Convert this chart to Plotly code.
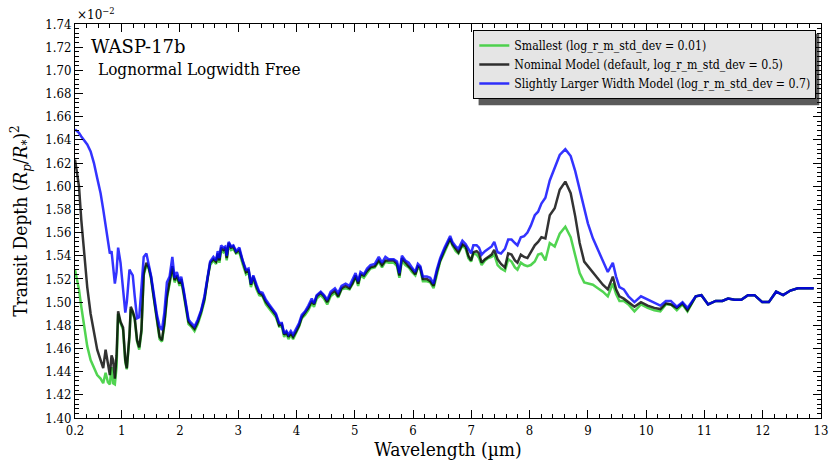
import plotly.graph_objects as go

wavelength = [0.200,0.268,0.308,0.354,0.410,0.468,0.525,0.581,0.639,0.684,0.725,0.764,0.798,0.827,0.854,0.884,0.913,0.940,0.981,1.025,1.063,1.089,1.135,1.157,1.191,1.225,1.265,1.302,1.340,1.379,1.425,1.465,1.504,1.550,1.606,1.652,1.692,1.733,1.777,1.823,1.870,1.909,1.948,1.994,2.023,2.063,2.109,2.148,2.194,2.251,2.307,2.365,2.421,2.478,2.519,2.575,2.621,2.649,2.678,2.707,2.746,2.780,2.803,2.837,2.878,2.917,2.963,3.020,3.076,3.134,3.178,3.219,3.259,3.315,3.361,3.418,3.476,3.532,3.601,3.647,3.703,3.749,3.789,3.828,3.862,3.903,3.942,3.988,4.045,4.091,4.147,4.204,4.262,4.301,4.347,4.416,4.472,4.528,4.586,4.660,4.716,4.774,4.843,4.911,4.968,5.014,5.058,5.099,5.156,5.212,5.270,5.344,5.412,5.468,5.526,5.583,5.668,5.725,5.766,5.810,5.868,5.925,5.981,6.039,6.083,6.124,6.169,6.237,6.295,6.352,6.408,6.466,6.540,6.608,6.637,6.676,6.733,6.779,6.847,6.904,6.950,6.996,7.035,7.092,7.133,7.177,7.235,7.292,7.348,7.394,7.451,7.509,7.577,7.633,7.690,7.748,7.792,7.850,7.907,7.963,8.021,8.089,8.146,8.203,8.271,8.346,8.431,8.517,8.613,8.705,8.783,8.859,8.937,9.000,9.086,9.171,9.257,9.342,9.428,9.484,9.542,9.616,9.696,9.799,9.911,10.026,10.140,10.243,10.338,10.424,10.526,10.624,10.709,10.851,10.948,11.063,11.193,11.307,11.405,11.518,11.632,11.746,11.859,11.991,12.105,12.230,12.350,12.475,12.601,12.731,12.874]

# transit depth in units of 1e-2
depth_smallest = [1.528,1.511,1.496,1.479,1.462,1.450,1.443,1.437,1.434,1.430,1.439,1.431,1.429,1.444,1.430,1.429,1.444,1.490,1.482,1.476,1.448,1.442,1.470,1.494,1.491,1.485,1.466,1.459,1.474,1.523,1.532,1.529,1.520,1.503,1.483,1.468,1.466,1.480,1.503,1.515,1.529,1.517,1.522,1.514,1.518,1.507,1.492,1.481,1.479,1.475,1.481,1.490,1.501,1.522,1.532,1.536,1.533,1.540,1.534,1.545,1.543,1.545,1.536,1.549,1.545,1.546,1.542,1.543,1.533,1.524,1.526,1.513,1.520,1.511,1.506,1.505,1.498,1.494,1.490,1.487,1.479,1.479,1.470,1.473,1.468,1.472,1.468,1.473,1.479,1.486,1.489,1.493,1.499,1.496,1.503,1.506,1.503,1.498,1.505,1.508,1.504,1.511,1.512,1.511,1.516,1.522,1.514,1.523,1.521,1.525,1.529,1.530,1.535,1.530,1.535,1.534,1.534,1.531,1.521,1.536,1.532,1.530,1.526,1.523,1.530,1.528,1.518,1.518,1.517,1.512,1.524,1.535,1.543,1.550,1.554,1.549,1.544,1.542,1.549,1.546,1.538,1.535,1.542,1.541,1.538,1.532,1.536,1.538,1.539,1.541,1.532,1.529,1.527,1.537,1.535,1.530,1.528,1.534,1.532,1.531,1.532,1.535,1.541,1.542,1.536,1.551,1.548,1.559,1.565,1.556,1.539,1.525,1.517,1.516,1.515,1.512,1.509,1.505,1.516,1.507,1.501,1.501,1.498,1.492,1.498,1.495,1.493,1.492,1.498,1.498,1.493,1.498,1.492,1.505,1.506,1.498,1.501,1.501,1.503,1.502,1.502,1.506,1.506,1.500,1.500,1.509,1.506,1.510,1.512,1.512,1.512]

depth_nominal = [1.623,1.600,1.571,1.542,1.513,1.490,1.473,1.459,1.450,1.443,1.459,1.447,1.437,1.454,1.450,1.434,1.454,1.492,1.483,1.478,1.450,1.443,1.472,1.496,1.492,1.486,1.467,1.461,1.476,1.525,1.534,1.530,1.522,1.505,1.485,1.470,1.467,1.482,1.505,1.517,1.531,1.519,1.523,1.516,1.520,1.509,1.494,1.483,1.480,1.477,1.483,1.492,1.503,1.523,1.534,1.537,1.535,1.542,1.536,1.547,1.545,1.547,1.538,1.551,1.547,1.548,1.543,1.545,1.535,1.526,1.528,1.515,1.522,1.513,1.508,1.506,1.500,1.496,1.492,1.489,1.480,1.481,1.472,1.474,1.470,1.473,1.470,1.474,1.480,1.487,1.491,1.495,1.501,1.498,1.505,1.508,1.505,1.500,1.507,1.510,1.505,1.512,1.514,1.512,1.517,1.523,1.516,1.524,1.523,1.527,1.530,1.531,1.536,1.532,1.536,1.536,1.536,1.533,1.523,1.538,1.534,1.531,1.528,1.524,1.531,1.530,1.520,1.520,1.518,1.514,1.526,1.536,1.545,1.552,1.555,1.550,1.546,1.543,1.550,1.548,1.540,1.536,1.543,1.544,1.542,1.534,1.537,1.539,1.541,1.545,1.537,1.533,1.530,1.542,1.541,1.536,1.534,1.541,1.539,1.538,1.543,1.549,1.552,1.556,1.555,1.575,1.581,1.597,1.604,1.594,1.574,1.551,1.535,1.531,1.526,1.521,1.515,1.511,1.522,1.511,1.505,1.503,1.500,1.496,1.500,1.497,1.495,1.494,1.499,1.498,1.495,1.499,1.493,1.505,1.506,1.498,1.501,1.501,1.503,1.502,1.502,1.506,1.506,1.500,1.500,1.509,1.506,1.510,1.512,1.512,1.512]

depth_larger = [1.649,1.646,1.643,1.640,1.636,1.630,1.620,1.607,1.594,1.580,1.565,1.554,1.542,1.544,1.531,1.516,1.526,1.547,1.534,1.513,1.491,1.500,1.528,1.526,1.523,1.505,1.486,1.487,1.511,1.539,1.542,1.533,1.523,1.508,1.489,1.479,1.476,1.491,1.517,1.522,1.539,1.521,1.526,1.518,1.522,1.511,1.496,1.485,1.482,1.479,1.485,1.493,1.505,1.525,1.535,1.539,1.536,1.544,1.538,1.549,1.547,1.548,1.540,1.552,1.548,1.549,1.544,1.547,1.536,1.528,1.529,1.516,1.523,1.515,1.509,1.508,1.502,1.498,1.493,1.490,1.482,1.482,1.473,1.475,1.472,1.475,1.472,1.476,1.482,1.489,1.492,1.497,1.503,1.499,1.506,1.509,1.506,1.502,1.509,1.512,1.508,1.514,1.516,1.514,1.520,1.525,1.518,1.526,1.524,1.529,1.532,1.533,1.539,1.534,1.539,1.537,1.537,1.535,1.525,1.540,1.536,1.534,1.530,1.526,1.533,1.531,1.522,1.522,1.521,1.516,1.528,1.538,1.547,1.554,1.557,1.552,1.548,1.546,1.553,1.550,1.546,1.542,1.549,1.549,1.547,1.541,1.544,1.546,1.548,1.552,1.543,1.542,1.546,1.554,1.554,1.551,1.549,1.556,1.557,1.560,1.566,1.575,1.578,1.585,1.590,1.605,1.616,1.627,1.632,1.626,1.613,1.597,1.582,1.568,1.555,1.545,1.535,1.526,1.534,1.522,1.513,1.511,1.505,1.500,1.505,1.502,1.499,1.497,1.501,1.501,1.496,1.500,1.495,1.505,1.506,1.498,1.501,1.501,1.503,1.502,1.502,1.506,1.506,1.500,1.500,1.509,1.506,1.510,1.512,1.512,1.512]

series_names = [
    "Smallest (log_r_m_std_dev = 0.01)",
    "Nominal Model (default, log_r_m_std_dev = 0.5)",
    "Slightly Larger Width Model (log_r_m_std_dev = 0.7)",
]
x_tick_vals = [0.2, 1, 2, 3, 4, 5, 6, 7, 8, 9, 10, 11, 12, 13]
x_tick_text = ["0.2", "1", "2", "3", "4", "5", "6", "7", "8", "9", "10", "11", "12", "13"]

SERIF = "DejaVu Serif, Liberation Serif, serif"
COND = "DejaVu Serif Condensed, DejaVu Serif, serif"

fig = go.Figure()
colors = ["rgba(50,205,50,0.85)", "rgba(0,0,0,0.8)", "rgba(0,0,255,0.8)"]
for name, ys, c in zip(series_names, [depth_smallest, depth_nominal, depth_larger], colors):
    fig.add_trace(go.Scatter(x=wavelength, y=ys, mode="lines", name=name,
                             line=dict(color=c, width=2.5)))

axis_common = dict(showgrid=False, zeroline=False, showline=True, linecolor="black",
                   linewidth=1, mirror="allticks", ticks="inside", ticklen=8,
                   tickcolor="black", tickfont=dict(family=COND, size=13, color="black"))

fig.update_xaxes(range=[0.2, 13], tickmode="array", tickvals=x_tick_vals, ticktext=x_tick_text,
                 minor=dict(tickmode="linear", tick0=0, dtick=0.2, ticks="inside", ticklen=4,
                            tickcolor="black"),
                 title=dict(text="Wavelength (µm)", font=dict(family=COND, size=19, color="black"),
                            standoff=4),
                 **axis_common)
fig.update_yaxes(range=[1.40, 1.74], dtick=0.02, tick0=1.40, tickformat=".2f",
                 minor=dict(tickmode="linear", tick0=1.40, dtick=0.004, ticks="inside", ticklen=4,
                            tickcolor="black"),
                 title=dict(text="Transit Depth (<i>R</i><sub><i>p</i></sub>/<i>R</i><sub>*</sub>)<sup>2</sup>",
                            font=dict(family=COND, size=19, color="black"), standoff=12),
                 **axis_common)

fig.update_layout(
    width=840, height=467,
    margin=dict(l=75, r=16, t=24, b=49),
    paper_bgcolor="white", plot_bgcolor="white",
    showlegend=True,
    legend=dict(x=0.9937, xanchor="right", y=0.985, yanchor="top",
                bgcolor="#e5e5e5", bordercolor="black", borderwidth=1,
                font=dict(family=COND, size=12.2, color="black"),
                itemwidth=30, tracegroupgap=0),
    shapes=[dict(type="rect", xref="paper", yref="paper", layer="below",
                 x0=0.541, x1=0.9977, y0=0.794, y1=0.975,
                 fillcolor="#5a5a5a", line=dict(width=0))],
    annotations=[
        dict(text="×10<sup>−2</sup>", xref="paper", yref="paper", x=0.0, y=1.0,
             xanchor="left", yanchor="bottom", showarrow=False,
             font=dict(family=SERIF, size=12, color="black")),
        dict(text="WASP-17b", xref="paper", yref="paper", x=0.019, y=0.943,
             xanchor="left", yanchor="middle", showarrow=False,
             font=dict(family=SERIF, size=18, color="black")),
        dict(text="Lognormal Logwidth Free", xref="paper", yref="paper", x=0.028, y=0.885,
             xanchor="left", yanchor="middle", showarrow=False,
             font=dict(family=COND, size=17, color="black")),
    ],
)

fig.write_html("out.html")
